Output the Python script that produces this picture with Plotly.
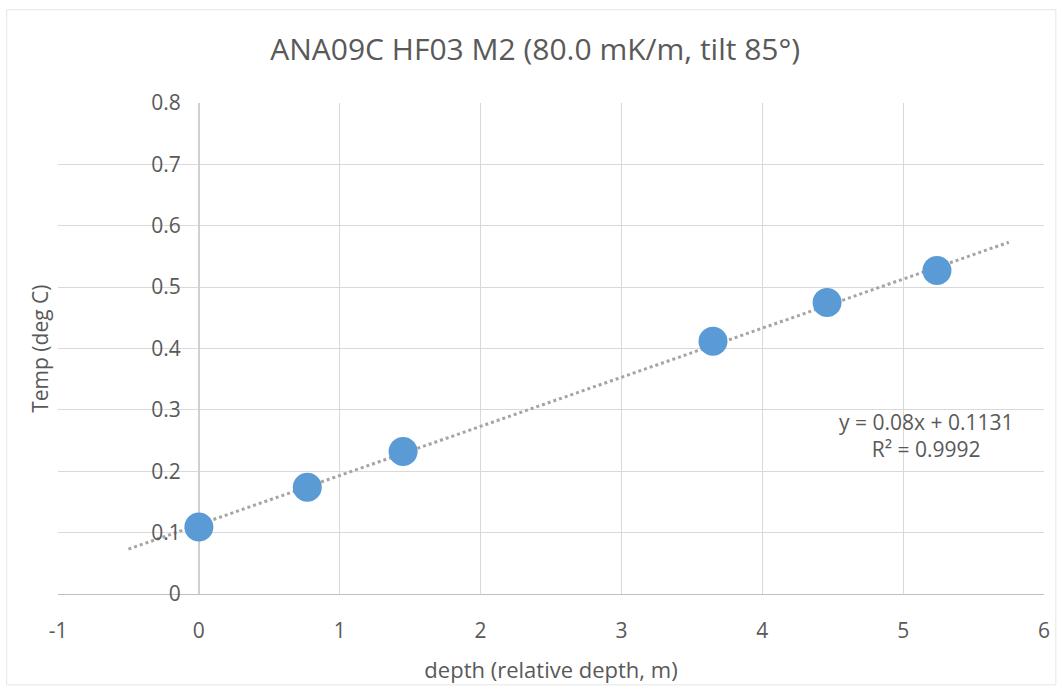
import plotly.graph_objects as go

# Data
depth = [0.0, 0.77, 1.45, 3.65, 4.46, 5.24]
temp = [0.109, 0.174, 0.232, 0.412, 0.475, 0.527]
slope = 0.08
intercept = 0.1131
r2 = 0.9992
trend_x = [-0.5, 5.75]
x_ticks = [-1, 0, 1, 2, 3, 4, 5, 6]
y_ticks = [0, 0.1, 0.2, 0.3, 0.4, 0.5, 0.6, 0.7, 0.8]

FONT = "Open Sans"
TXT = "#595959"
GRID = "#D9D9D9"

trend_y = [slope * x + intercept for x in trend_x]

fig = go.Figure()
fig.add_trace(go.Scatter(
    x=trend_x, y=trend_y, mode="lines",
    line=dict(color="#A5A5A5", width=3, dash="dot"),
    hoverinfo="skip", showlegend=False))
fig.add_trace(go.Scatter(
    x=depth, y=temp, mode="markers",
    marker=dict(size=29, color="#5B9BD5", line=dict(width=0)),
    showlegend=False))

x_min, x_max = x_ticks[0], x_ticks[-1]
fig.update_layout(
    width=1062, height=692,
    margin=dict(l=58, r=18, t=103, b=98),
    paper_bgcolor="white", plot_bgcolor="white",
    font=dict(family=FONT, color=TXT, size=21),
    title=dict(text="ANA09C HF03 M2 (80.0 mK/m, tilt 85°)",
               x=0.504, xref="container", xanchor="center",
               y=0.928, yanchor="middle",
               font=dict(size=30, color=TXT, family=FONT)),
    xaxis=dict(range=[x_min, x_max], tickvals=x_ticks,
               ticktext=[str(v) for v in x_ticks], showgrid=True,
               gridcolor=GRID, gridwidth=1, zeroline=True, zerolinecolor="#D0D0D0",
               showline=True, linecolor="#BFBFBF", ticks="", ticklen=0,
               ticklabelstandoff=18,
               tickfont=dict(size=21, color=TXT),
               title=dict(text="depth (relative depth, m)", standoff=19,
                          font=dict(size=22, color=TXT))),
    yaxis=dict(range=[0, 0.8], tickvals=y_ticks,
               ticktext=[f"{v:g}" for v in y_ticks],
               anchor="free", position=(0 - x_min) / (x_max - x_min),
               showgrid=True, gridcolor=GRID, zeroline=False, showline=False,
               ticks="", ticklen=0, ticklabelstandoff=18,
               tickfont=dict(size=21, color=TXT)),
    shapes=[dict(type="rect", xref="paper", yref="paper",
                 x0=-0.052, x1=1.012, y0=-0.185, y1=1.19,
                 line=dict(color="#E6E6E6", width=1))],
    annotations=[
        dict(text="Temp (deg C)", xref="paper", yref="paper",
             x=-0.019, y=0.5, textangle=-90, showarrow=False,
             xanchor="center", yanchor="middle",
             font=dict(size=21, color=TXT)),
        dict(text=f"y = {slope:g}x + {intercept:g}<br>R² = {r2:g}",
             xref="x", yref="y", x=5.16, y=0.258, showarrow=False,
             align="center", xanchor="center", yanchor="middle",
             font=dict(size=21, color=TXT)),
    ],
)

fig.write_html("out.html")
